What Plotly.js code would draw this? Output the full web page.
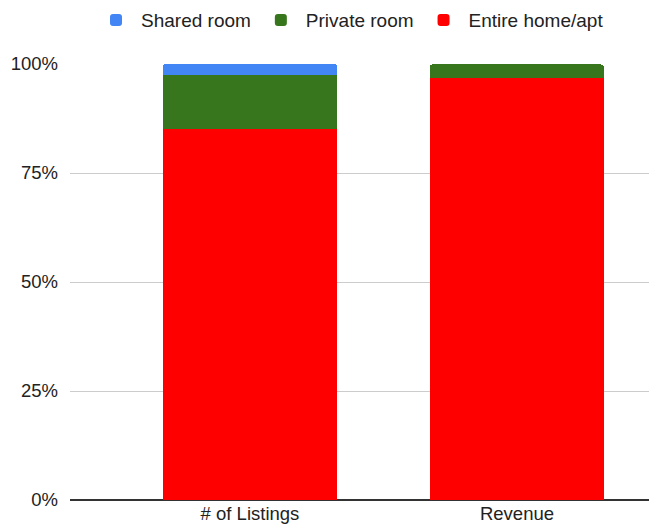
<!DOCTYPE html>
<html>
<head>
<meta charset="utf-8">
<script src="https://cdn.plot.ly/plotly-3.0.1.min.js"></script>
<style>html,body{margin:0;padding:0;background:#fff;}#chart{width:649px;height:529px;}</style>
</head>
<body>
<div id="chart"></div>
<script>
const categories = ["# of Listings", "Revenue"];
const entireHome = [85.0, 96.9];
const privateRoom = [12.4, 3.0];
const sharedRoom = [2.6, 0.1];
const yTickVals = [0, 25, 50, 75, 100];
const yTickText = ["0%", "25%", "50%", "75%", "100%"];

const axisFont = {family: "Liberation Sans, Arial, sans-serif", size: 18.5, color: "#222"};
const legendFont = {family: "Liberation Sans, Arial, sans-serif", size: 19, color: "#222"};
const traces = [
  {type: "bar", name: "Entire home/apt", x: categories, y: entireHome, marker: {color: "#ff0000"}, width: 0.652, hoverinfo: "skip"},
  {type: "bar", name: "Private room", x: categories, y: privateRoom, marker: {color: "#38761d"}, width: 0.652, hoverinfo: "skip"},
  {type: "bar", name: "Shared room", x: categories, y: sharedRoom, marker: {color: "#4285f4"}, width: 0.652, hoverinfo: "skip"}
];
const layout = {
  width: 649, height: 529,
  margin: {l: 70, r: 0, t: 64, b: 29},
  barmode: "stack",
  barcornerradius: 3,
  font: axisFont,
  paper_bgcolor: "#fff", plot_bgcolor: "#fff",
  showlegend: true,
  legend: {orientation: "h", traceorder: "reversed", xref: "paper", x: 0.4836, xanchor: "center", yref: "container", y: 0.962, yanchor: "middle", font: legendFont, itemwidth: 40},
  xaxis: {type: "category", range: [-0.674, 1.4945], showgrid: false, showline: false, zeroline: false, ticks: "", tickfont: axisFont, automargin: false},
  yaxis: {range: [0, 100], tickvals: yTickVals, ticktext: yTickText, showgrid: true, gridcolor: "#cccccc", gridwidth: 1, zeroline: true, zerolinecolor: "#333333", zerolinewidth: 1.5, showline: false, ticks: "", ticklabelstandoff: 11, tickfont: axisFont, automargin: false}
};
Plotly.newPlot("chart", traces, layout, {displayModeBar: false, staticPlot: true});
</script>
</body>
</html>
